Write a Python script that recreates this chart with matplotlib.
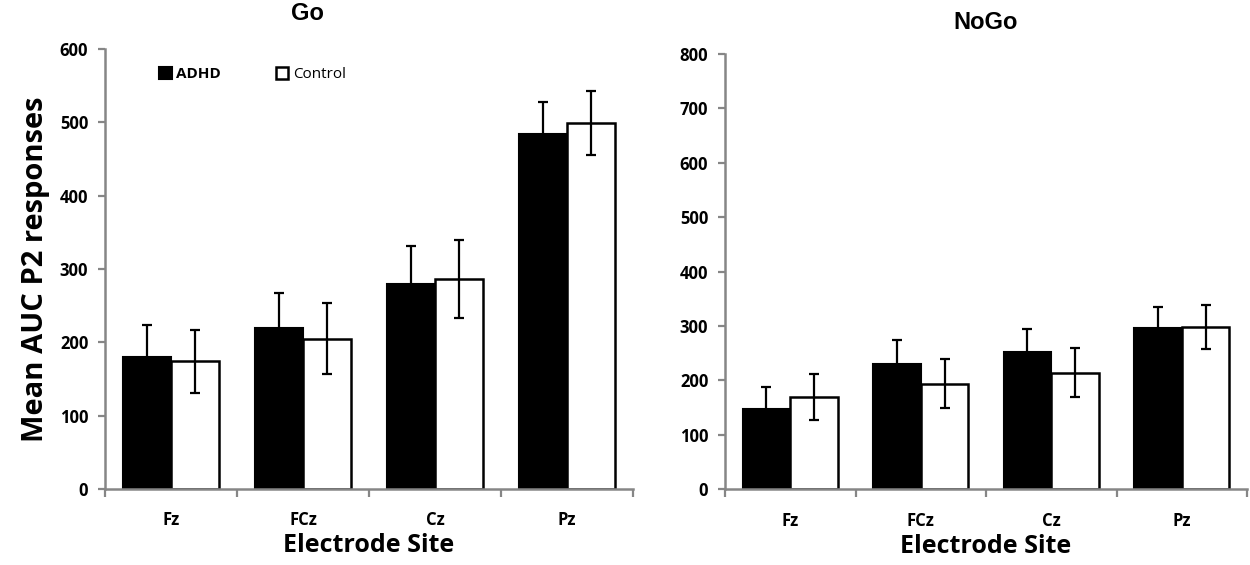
import numpy as np
import matplotlib
matplotlib.use("Agg")
import matplotlib.pyplot as plt

sites = ["Fz", "FCz", "Cz", "Pz"]

go_adhd = [180, 219, 279, 484]
go_adhd_err = [43, 48, 52, 44]
go_ctrl = [174, 205, 286, 499]
go_ctrl_err = [43, 48, 53, 43]

nogo_adhd = [147, 230, 252, 297]
nogo_adhd_err = [41, 44, 43, 38]
nogo_ctrl = [170, 194, 214, 298]
nogo_ctrl_err = [42, 45, 45, 41]

gray = "#868686"
lab_font = "Open Sans"


def draw_panel(ax, adhd, adhd_err, ctrl, ctrl_err, ymax, title, tx, tpad):
    x = np.arange(len(sites))
    w = 0.365
    ekw = dict(ecolor="black", elinewidth=1.6, capsize=3.6, capthick=1.6)
    ax.bar(x - w / 2, adhd, w, color="black", edgecolor="black", linewidth=1.5,
           yerr=adhd_err, error_kw=ekw, label="ADHD")
    ax.bar(x + w / 2, ctrl, w, color="white", edgecolor="black", linewidth=1.8,
           yerr=ctrl_err, error_kw=ekw, label="Control")

    ax.set_xlim(-0.5, len(sites) - 0.5)
    ax.set_ylim(0, ymax)
    ax.set_yticks(np.arange(0, ymax + 1, 100))
    ax.set_xticks(x)
    ax.set_xticklabels(sites)
    # category boundary ticks, Excel style
    ax.set_xticks(np.arange(-0.5, len(sites)), minor=True)
    ax.tick_params(axis="x", which="major", length=0, pad=16)
    ax.tick_params(axis="x", which="minor", length=6, width=1.6, color=gray)
    ax.tick_params(axis="y", length=5, width=1.6, color=gray, pad=7)
    for lbl in ax.get_xticklabels() + ax.get_yticklabels():
        lbl.set_fontfamily(lab_font)
        lbl.set_fontweight("bold")
        lbl.set_fontsize(12)

    for s in ["top", "right"]:
        ax.spines[s].set_visible(False)
    for s in ["left", "bottom"]:
        ax.spines[s].set_color(gray)
        ax.spines[s].set_linewidth(1.8)

    ax.set_title(title, x=tx, fontfamily="Liberation Sans", fontweight="bold",
                 fontsize=17, pad=tpad)
    ax.set_xlabel("Electrode Site", fontfamily=lab_font, fontweight="bold",
                  fontsize=18, labelpad=3)


fig = plt.figure(figsize=(12.5, 5.65), dpi=100)
ax1 = fig.add_axes([0.084, 0.1345, 0.4224, 0.779])
ax2 = fig.add_axes([0.58, 0.134, 0.4176, 0.7705])

draw_panel(ax1, go_adhd, go_adhd_err, go_ctrl, go_ctrl_err, 600, "Go", 0.383, 21)
draw_panel(ax2, nogo_adhd, nogo_adhd_err, nogo_ctrl, nogo_ctrl_err, 800, "NoGo", 0.5, 18)

ax1.set_ylabel("Mean AUC P2 responses", fontfamily=lab_font, fontweight="bold",
               fontsize=21, labelpad=7)

leg = ax1.legend(loc="upper left", bbox_to_anchor=(0.077, 0.99), ncol=2,
                 frameon=False, handlelength=0.8, handleheight=0.8,
                 handletextpad=0.3, columnspacing=3.6,
                 prop={"family": lab_font, "size": 11})
leg.get_texts()[0].set_fontweight("bold")

fig.savefig("out.png", dpi=100)
